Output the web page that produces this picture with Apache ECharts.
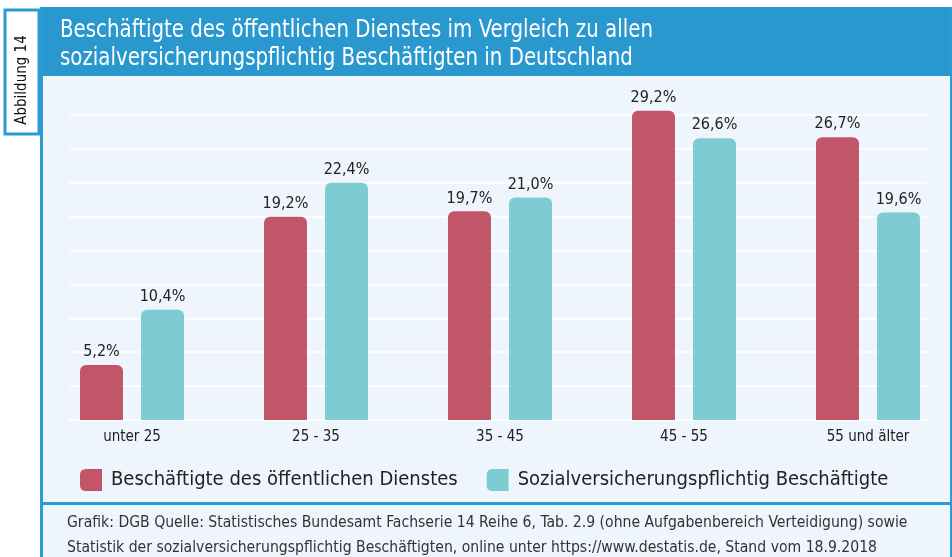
<!DOCTYPE html>
<html>
<head>
<meta charset="utf-8">
<script src="https://cdn.jsdelivr.net/npm/echarts@6/dist/echarts.min.js"></script>
<style>
html,body{margin:0;padding:0;background:#fff;}
#c{width:952px;height:557px;}
</style>
</head>
<body>
<div id="c"></div>
<script>
const categories = ['unter 25', '25 - 35', '35 - 45', '45 - 55', '55 und älter'];
const oeffentlich = [5.2, 19.2, 19.7, 29.2, 26.7];
const sozial = [10.4, 22.4, 21.0, 26.6, 19.6];
const seriesNames = ['Beschäftigte des öffentlichen Dienstes', 'Sozialversicherungspflichtig Beschäftigte'];
const titleLines = ['Beschäftigte des öffentlichen Dienstes im Vergleich zu allen', 'sozialversicherungspflichtig Beschäftigten in Deutschland'];
const footerLines = ['Grafik: DGB Quelle: Statistisches Bundesamt Fachserie 14 Reihe 6, Tab. 2.9 (ohne Aufgabenbereich Verteidigung) sowie', 'Statistik der sozialversicherungspflichtig Beschäftigten, online unter https://www.destatis.de, Stand vom 18.9.2018'];
const figLabel = 'Abbildung 14';

const FONT = '"Liberation Sans Narrow", "DejaVu Sans Condensed", "Open Sans", sans-serif';
const RED = '#c25669';
const TEAL = '#7fcbd3';
const BLUE = '#2898cf';
const BG = '#eef5fc';

const chart = echarts.init(document.getElementById('c'), null, {renderer: 'canvas'});
const fmt = v => v.toFixed(1).replace('.', ',') + '%';
const iconPath = 'path://M6,0 L22,0 L22,22 L6,22 Q0,22 0,16 L0,6 Q0,0 6,0 Z';

chart.setOption({
  backgroundColor: '#fff',
  textStyle: {fontFamily: FONT},
  graphic: [
    {type: 'rect', z: -10, silent: true, shape: {x: 40, y: 75, width: 912, height: 482}, style: {fill: BG}},
    {type: 'rect', z: -9, silent: true, shape: {x: 40, y: 7, width: 912, height: 69}, style: {fill: BLUE}},
    {type: 'rect', z: -8, silent: true, shape: {x: 40, y: 7, width: 3, height: 550}, style: {fill: '#2c9bd3'}},
    {type: 'rect', z: -8, silent: true, shape: {x: 950, y: 7, width: 2, height: 550}, style: {fill: '#2c9bd3'}},
    {type: 'rect', z: -8, silent: true, shape: {x: 40, y: 502, width: 912, height: 3}, style: {fill: '#2c9bd3'}},
    {type: 'rect', z: -7, silent: true, shape: {x: 5, y: 10, width: 34, height: 124}, style: {fill: '#fff', stroke: '#2c9bd3', lineWidth: 3}},
    {type: 'text', z: 5, silent: true, x: 22, y: 80, rotation: Math.PI / 2,
      style: {text: figLabel, fill: '#111', font: '15px ' + FONT, align: 'center', verticalAlign: 'middle'}},
    {type: 'text', z: 5, silent: true, x: 60, y: 16, scaleX: 0.88,
      style: {text: titleLines.join('\n'), fill: '#fff', font: '25px ' + FONT, lineHeight: 28}},
    {type: 'text', z: 5, silent: true, x: 67, y: 510,
      style: {text: footerLines.join('\n'), fill: '#333', font: '15.6px ' + FONT, lineHeight: 25}}
  ],
  legend: {
    left: 75, top: 464, width: 870,
    itemWidth: 22, itemHeight: 22, itemGap: 29,
    textStyle: {fontSize: 20, color: '#222', fontFamily: FONT, padding: [0, 0, 0, 4]},
    data: [{name: seriesNames[0], icon: iconPath}, {name: seriesNames[1], icon: iconPath}]
  },
  grid: [
    {left: 69, width: 858, top: 115, height: 305},
    {left: 132, width: 736, top: 115, height: 305}
  ],
  xAxis: [
    {gridIndex: 0, type: 'category', data: categories, show: false},
    {gridIndex: 1, type: 'category', data: categories, boundaryGap: false,
      axisLine: {show: false}, axisTick: {show: false},
      axisLabel: {color: '#222', fontSize: 15, margin: 10, fontFamily: FONT}}
  ],
  yAxis: [
    {gridIndex: 0, type: 'value', min: 0, max: 28.8, interval: 3.2,
      axisLabel: {show: false}, axisLine: {show: false}, axisTick: {show: false},
      splitLine: {show: true, lineStyle: {color: '#ffffff', width: 1.5}}},
    {gridIndex: 1, type: 'value', min: 0, max: 28.8, interval: 3.2, show: false, splitLine: {show: false}}
  ],
  series: [
    {name: seriesNames[0], type: 'bar', xAxisIndex: 1, yAxisIndex: 1, data: oeffentlich, clip: false,
      barWidth: 43, barGap: '42%', itemStyle: {color: RED, borderRadius: [6, 6, 0, 0]},
      label: {show: true, position: 'top', distance: 5, color: '#222', fontSize: 16, fontFamily: FONT, formatter: p => fmt(p.value)}},
    {name: seriesNames[1], type: 'bar', xAxisIndex: 1, yAxisIndex: 1, data: sozial, clip: false,
      barWidth: 43, barGap: '42%', itemStyle: {color: TEAL, borderRadius: [6, 6, 0, 0]},
      label: {show: true, position: 'top', distance: 5, color: '#222', fontSize: 16, fontFamily: FONT, formatter: p => fmt(p.value)}}
  ],
  animation: false
});
</script>
</body>
</html>
